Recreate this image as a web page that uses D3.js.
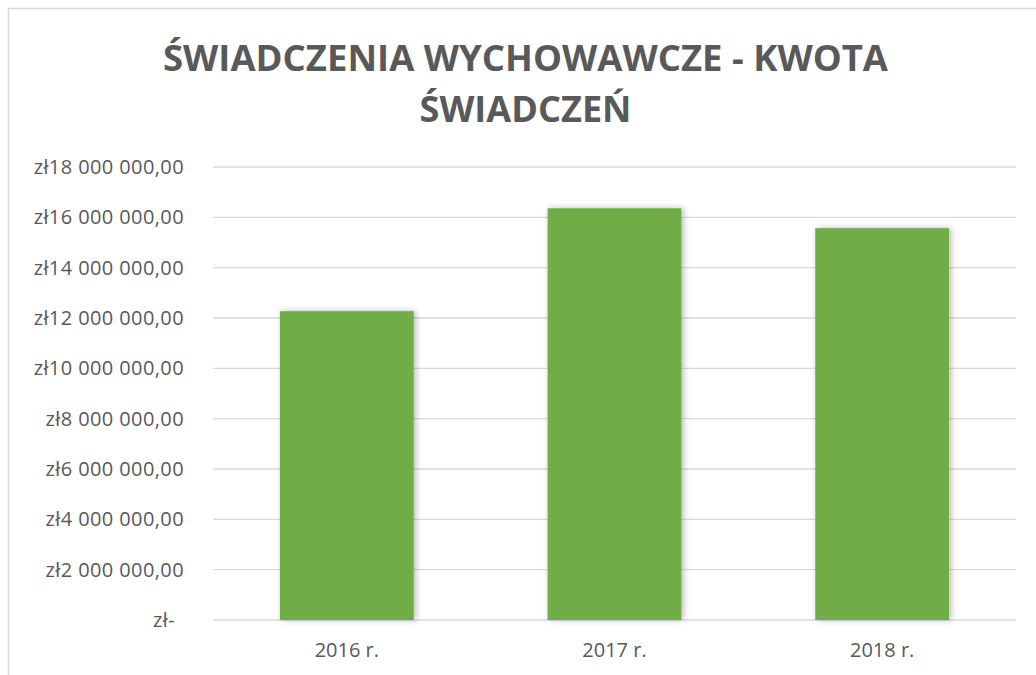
<!DOCTYPE html>
<html>
<head>
<meta charset="utf-8">
<script src="https://cdn.jsdelivr.net/npm/d3@7"></script>
<style>
  body { margin: 0; background: #fff; }
  svg { display: block; }
</style>
</head>
<body>
<svg></svg>
<script>
const width = 1036;
const height = 675;

// data
const years = ["2016 r.", "2017 r.", "2018 r."];
const amounts = [12270000, 16360000, 15570000];
const yTicks = [0, 2e6, 4e6, 6e6, 8e6, 10e6, 12e6, 14e6, 16e6, 18e6];
const titleLines = ["ŚWIADCZENIA WYCHOWAWCZE - KWOTA", "ŚWIADCZEŃ"];

const margin = { top: 167, right: 20, bottom: 55, left: 213 };

const svg = d3.select("svg")
  .attr("width", width)
  .attr("height", height);

const defs = svg.append("defs");
const shadow = defs.append("filter")
  .attr("id", "shadow")
  .attr("x", "-20%").attr("y", "-20%")
  .attr("width", "140%").attr("height", "140%");
shadow.append("feDropShadow")
  .attr("dx", 2).attr("dy", 0)
  .attr("stdDeviation", 3)
  .attr("flood-color", "#000")
  .attr("flood-opacity", 0.28);

// chart frame (extends past the right edge)
svg.append("rect")
  .attr("x", 8.5).attr("y", 8.5)
  .attr("width", 1040).attr("height", 700)
  .attr("fill", "#fff")
  .attr("stroke", "#d9d9d9")
  .attr("stroke-width", 1.5);

// title
const title = svg.append("g")
  .attr("font-family", "'Open Sans', sans-serif")
  .attr("font-weight", "bold")
  .attr("font-size", 35)
  .attr("fill", "#595959")
  .attr("text-anchor", "middle");

title.selectAll("text")
  .data(titleLines)
  .enter()
  .append("text")
  .attr("x", 525.5)
  .attr("y", (d, i) => 70.5 + i * 51)
  .attr("textLength", (d, i) => i === 0 ? 725 : 212)
  .attr("lengthAdjust", "spacingAndGlyphs")
  .text(d => d);

const plotW = 1016 - margin.left;
const plotH = 620 - margin.top;

const x = d3.scaleBand()
  .domain(years)
  .range([0, plotW])
  .paddingInner(0.5)
  .paddingOuter(0.25);

const y = d3.scaleLinear()
  .domain([0, 18e6])
  .range([plotH, 0]);

const pl = d3.formatLocale({
  decimal: ",",
  thousands: " ",
  grouping: [3],
  currency: ["zł", ""]
});
const money = pl.format("$,.2f");

const g = svg.append("g")
  .attr("transform", `translate(${margin.left},${margin.top})`);

// gridlines
g.selectAll("line.grid")
  .data(yTicks)
  .enter()
  .append("line")
  .attr("class", "grid")
  .attr("x1", 0)
  .attr("x2", plotW)
  .attr("y1", d => y(d))
  .attr("y2", d => y(d))
  .attr("stroke", "#d9d9d9")
  .attr("stroke-width", 1.3);

// y axis labels
const yAxis = g.append("g")
  .call(d3.axisLeft(y)
    .tickValues(yTicks)
    .tickSize(0)
    .tickPadding(29)
    .tickFormat(d => d === 0 ? "zł-" : money(d)));
yAxis.select(".domain").remove();
yAxis.selectAll("text")
  .attr("font-family", "'Open Sans', sans-serif")
  .attr("font-size", 20)
  .attr("letter-spacing", 0.4)
  .attr("fill", "#595959")
  .attr("dx", d => d === 0 ? -9 : 0);

// bars
g.selectAll("rect.bar")
  .data(amounts)
  .enter()
  .append("rect")
  .attr("class", "bar")
  .attr("x", (d, i) => x(years[i]))
  .attr("y", d => y(d))
  .attr("width", x.bandwidth())
  .attr("height", d => plotH - y(d))
  .attr("fill", "#70ad47")
  .attr("filter", "url(#shadow)");

// x axis labels
const xAxis = g.append("g")
  .attr("transform", `translate(0,${plotH})`)
  .call(d3.axisBottom(x).tickSize(0).tickPadding(22.5));
xAxis.select(".domain").remove();
xAxis.selectAll("text")
  .attr("font-family", "'Open Sans', sans-serif")
  .attr("font-size", 20)
  .attr("fill", "#595959");
</script>
</body>
</html>
